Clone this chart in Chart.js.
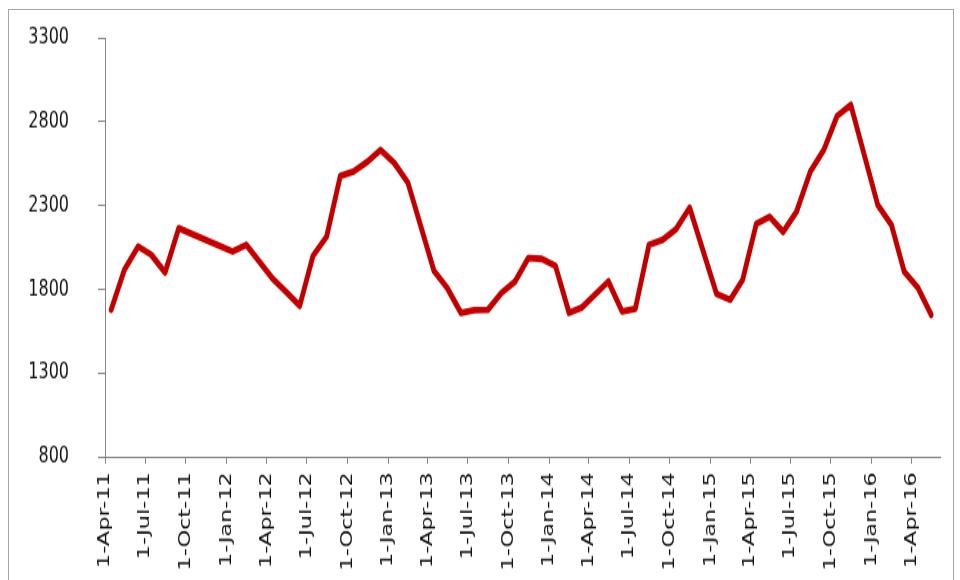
<!DOCTYPE html>
<html><head><meta charset="utf-8">
<script src="https://cdn.jsdelivr.net/npm/chart.js@4.4.1/dist/chart.umd.min.js"></script>
<style>
html,body{margin:0;padding:0;background:#fff;width:960px;height:580px;overflow:hidden}
#frame{position:absolute;left:8px;top:9px;width:946px;height:600px;border:1px solid #a6a6a6;box-sizing:border-box}
#c{position:absolute;left:0;top:0;transform:scaleY(1.401);transform-origin:0 0}
</style></head><body>
<div id="frame"></div>
<canvas id="c" width="960" height="414"></canvas>
<script>
const dates = [
  '2011-04-15','2011-05-15','2011-06-15','2011-07-15','2011-08-15','2011-09-15',
  '2012-01-15','2012-02-15','2012-04-15','2012-05-15','2012-06-15','2012-07-15','2012-08-15',
  '2012-09-15','2012-10-15','2012-11-15','2012-12-15','2013-01-15','2013-02-15',
  '2013-04-15','2013-05-15','2013-06-15','2013-07-15','2013-08-15','2013-09-15','2013-10-15',
  '2013-11-15','2013-12-15','2014-01-15','2014-02-15','2014-03-15','2014-05-15','2014-06-15',
  '2014-07-15','2014-08-15','2014-09-15','2014-10-15','2014-11-15','2015-01-15','2015-02-15',
  '2015-03-15','2015-04-15','2015-05-15','2015-06-15','2015-07-15','2015-08-15','2015-09-15',
  '2015-10-15','2015-11-15','2016-01-15','2016-02-15','2016-03-15','2016-04-15','2016-05-15'
];
const values = [
  1677,1916,2055,2005,1900,2164,
  2025,2065,1862,1785,1701,1999,2114,
  2476,2502,2560,2632,2554,2435,
  1910,1808,1659,1674,1677,1778,1844,
  1987,1981,1940,1659,1689,1846,1667,
  1683,2065,2095,2158,2286,1772,1737,
  1856,2190,2232,2142,2262,2500,2632,
  2834,2900,2303,2184,1904,1808,1647
];
const tickDates = [
  '2011-04-01','2011-07-01','2011-10-01','2012-01-01','2012-04-01','2012-07-01','2012-10-01',
  '2013-01-01','2013-04-01','2013-07-01','2013-10-01','2014-01-01','2014-04-01','2014-07-01',
  '2014-10-01','2015-01-01','2015-04-01','2015-07-01','2015-10-01','2016-01-01','2016-04-01'
];
const tickLabels = [
  '1-Apr-11','1-Jul-11','1-Oct-11','1-Jan-12','1-Apr-12','1-Jul-12','1-Oct-12',
  '1-Jan-13','1-Apr-13','1-Jul-13','1-Oct-13','1-Jan-14','1-Apr-14','1-Jul-14',
  '1-Oct-14','1-Jan-15','1-Apr-15','1-Jul-15','1-Oct-15','1-Jan-16','1-Apr-16'
];
const yMin = 800, yMax = 3300, yStep = 500;
const xStart = '2011-04-01', xEnd = '2016-06-04';

function day(s){ const p = s.split('-').map(Number); return Date.UTC(p[0], p[1]-1, p[2]) / 864e5; }
const tickDays = tickDates.map(day);
const points = dates.map((d, i) => ({ x: day(d), y: values[i] }));

const axisColor = '#868686';
new Chart(document.getElementById('c'), {
  type: 'line',
  data: { datasets: [{
    data: points,
    borderColor: '#C00000',
    borderWidth: 4.8,
    pointRadius: 0,
    tension: 0,
    borderJoinStyle: 'round',
    borderCapStyle: 'round',
    fill: false
  }]},
  options: {
    responsive: false,
    animation: false,
    events: [],
    layout: { autoPadding: false, padding: { top: 27, right: 20, bottom: 0, left: 0 } },
    plugins: { legend: { display: false }, tooltip: { enabled: false } },
    scales: {
      x: {
        type: 'linear',
        min: day(xStart),
        max: day(xEnd),
        afterBuildTicks(s){ s.ticks = tickDays.map(v => ({ value: v })); },
        afterFit(s){ s.height = 88; s.paddingLeft = 0; s.paddingRight = 0; },
        ticks: {
          autoSkip: false,
          maxRotation: 90, minRotation: 90,
          padding: 6,
          color: '#111',
          font: { family: 'DejaVu Sans', size: 16 },
          callback(v){ const k = tickDays.indexOf(v); return k >= 0 ? tickLabels[k] : ''; }
        },
        grid: { drawOnChartArea: false, drawTicks: true, tickLength: 5, color: axisColor },
        border: { color: axisColor, width: 1 }
      },
      y: {
        min: yMin, max: yMax,
        afterFit(s){ s.width = 105; s.paddingTop = 0; s.paddingBottom = 0; },
        ticks: {
          stepSize: yStep,
          padding: 29,
          color: '#111',
          font: { family: 'DejaVu Sans', size: 16 },
          callback(v){ return String(v); }
        },
        grid: { drawOnChartArea: false, drawTicks: true, tickLength: 7, color: axisColor },
        border: { color: axisColor, width: 1 }
      }
    }
  }
});
</script>
</body></html>
